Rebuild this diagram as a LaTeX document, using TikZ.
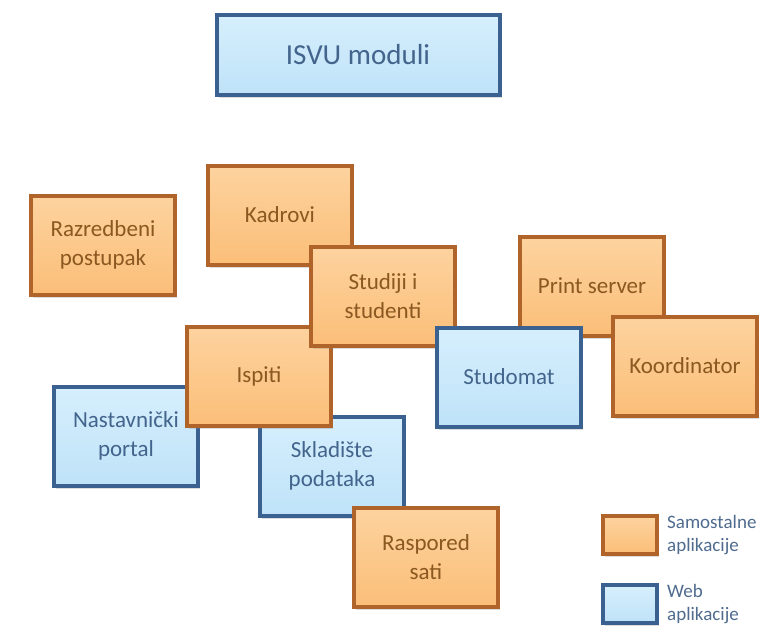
\documentclass[tikz,border=0pt]{standalone}
\usepackage{fontspec}
\setmainfont{Carlito}
\usepackage{xcolor}
\usepackage{tikz}
\usetikzlibrary{positioning,shadows}
\definecolor{orangetop}{HTML}{FDD39F}
\definecolor{orangefill}{HTML}{FBBE78}
\definecolor{orangeedge}{HTML}{B0642A}
\definecolor{orangetext}{HTML}{8A5820}
\definecolor{bluetop}{HTML}{D6EFFD}
\definecolor{bluefill}{HTML}{BFE2F8}
\definecolor{blueedge}{HTML}{3B6190}
\definecolor{bluetext}{HTML}{43648C}
\definecolor{keytext}{HTML}{4F6B8E}
\tikzset{
  module/.style={rectangle,line width=4pt,minimum width=144pt,minimum height=99pt,
    align=center,font=\fontsize{23}{29}\selectfont,
    drop shadow={opacity=0.28,shadow xshift=2pt,shadow yshift=-3pt}},
  solobox/.style={module,draw=orangeedge,top color=orangetop,bottom color=orangefill,text=orangetext},
  webbox/.style={module,draw=blueedge,top color=bluetop,bottom color=bluefill,text=bluetext},
  keybox/.style={minimum width=54pt,minimum height=38pt},
  keylabel/.style={inner sep=0pt,align=left,text=keytext,font=\fontsize{19}{23}\selectfont}
}

\begin{document}
\begin{tikzpicture}[x=1pt,y=-1pt]
\useasboundingbox (0,0) rectangle (761,626);

% modules, back to front
\node[solobox] (razredbeni) at (103,245) {Razredbeni\\postupak};
\node[solobox] (kadrovi) at (280,215) {Kadrovi};
\node[solobox] (print) at (592,286) {Print server};
\node[solobox] (koordinator) at (685,366) {Koordinator};
\node[webbox] (nastavnicki) at (126,436) {Nastavnički\\portal};
\node[webbox] (skladiste) at (332,466) {Skladište\\podataka};
\node[solobox] (ispiti) at (259,376) {Ispiti};
\node[solobox] (studiji) at (383,296) {Studiji i\\studenti};
\node[webbox] (studomat) at (509,377) {Studomat};
\node[solobox] (raspored) at (426,557) {Raspored\\sati};

% title
\node[webbox,minimum width=283pt,minimum height=80pt,font=\fontsize{29}{32}\selectfont] (isvu) at (358,55) {ISVU moduli};

% legend
\node[solobox,keybox] (keysolo) at (630,535) {};
\node[keylabel,right=8pt of keysolo] (keysolotext) {Samostalne\\aplikacije};
\node[webbox,keybox] (keyweb) at (630,604) {};
\node[keylabel,right=8pt of keyweb] (keywebtext) {Web\\aplikacije};
\end{tikzpicture}
\end{document}
